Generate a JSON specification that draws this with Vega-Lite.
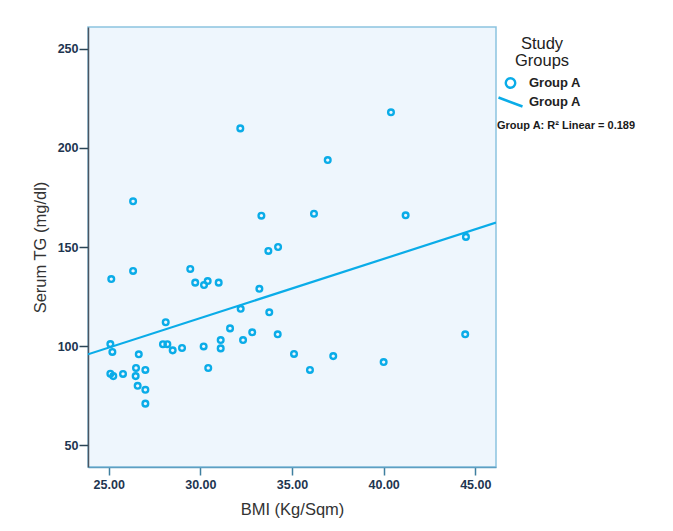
{
  "$schema": "https://vega.github.io/schema/vega-lite/v6.json",
  "width": 408,
  "height": 440,
  "autosize": {"type": "none"},
  "padding": {"left": 88, "top": 27, "right": 177, "bottom": 64},
  "background": "white",
  "config": {
    "font": "Liberation Sans",
    "view": {"fill": "#eef6fd", "stroke": "#8cc3df", "strokeWidth": 1.5},
    "axis": {"grid": false, "labelFont": "Liberation Sans", "titleFont": "Liberation Sans"}
  },
  "datasets": {
    "pts": [
      {"bmi": 25.14, "tg": 133.8, "group": "Group A"},
      {"bmi": 26.33, "tg": 137.9, "group": "Group A"},
      {"bmi": 29.45, "tg": 138.9, "group": "Group A"},
      {"bmi": 29.72, "tg": 132.0, "group": "Group A"},
      {"bmi": 30.20, "tg": 130.8, "group": "Group A"},
      {"bmi": 30.40, "tg": 132.8, "group": "Group A"},
      {"bmi": 31.00, "tg": 132.0, "group": "Group A"},
      {"bmi": 33.71, "tg": 148.0, "group": "Group A"},
      {"bmi": 34.24, "tg": 150.0, "group": "Group A"},
      {"bmi": 33.22, "tg": 128.9, "group": "Group A"},
      {"bmi": 32.20, "tg": 118.8, "group": "Group A"},
      {"bmi": 33.76, "tg": 117.0, "group": "Group A"},
      {"bmi": 28.11, "tg": 112.0, "group": "Group A"},
      {"bmi": 25.09, "tg": 101.0, "group": "Group A"},
      {"bmi": 25.20, "tg": 97.0, "group": "Group A"},
      {"bmi": 27.96, "tg": 100.9, "group": "Group A"},
      {"bmi": 28.20, "tg": 100.9, "group": "Group A"},
      {"bmi": 28.49, "tg": 97.8, "group": "Group A"},
      {"bmi": 29.00, "tg": 99.0, "group": "Group A"},
      {"bmi": 30.18, "tg": 99.8, "group": "Group A"},
      {"bmi": 31.11, "tg": 103.0, "group": "Group A"},
      {"bmi": 31.11, "tg": 98.8, "group": "Group A"},
      {"bmi": 31.62, "tg": 108.9, "group": "Group A"},
      {"bmi": 32.33, "tg": 103.0, "group": "Group A"},
      {"bmi": 32.83, "tg": 106.9, "group": "Group A"},
      {"bmi": 34.22, "tg": 105.9, "group": "Group A"},
      {"bmi": 35.11, "tg": 96.0, "group": "Group A"},
      {"bmi": 26.64, "tg": 95.8, "group": "Group A"},
      {"bmi": 30.43, "tg": 88.9, "group": "Group A"},
      {"bmi": 25.09, "tg": 86.0, "group": "Group A"},
      {"bmi": 25.25, "tg": 84.8, "group": "Group A"},
      {"bmi": 25.78, "tg": 85.9, "group": "Group A"},
      {"bmi": 26.49, "tg": 88.9, "group": "Group A"},
      {"bmi": 27.00, "tg": 87.9, "group": "Group A"},
      {"bmi": 26.47, "tg": 84.8, "group": "Group A"},
      {"bmi": 26.58, "tg": 79.9, "group": "Group A"},
      {"bmi": 27.00, "tg": 77.9, "group": "Group A"},
      {"bmi": 27.00, "tg": 70.9, "group": "Group A"},
      {"bmi": 40.40, "tg": 218.0, "group": "Group A"},
      {"bmi": 36.95, "tg": 193.9, "group": "Group A"},
      {"bmi": 36.20, "tg": 166.8, "group": "Group A"},
      {"bmi": 41.20, "tg": 166.0, "group": "Group A"},
      {"bmi": 44.49, "tg": 155.1, "group": "Group A"},
      {"bmi": 44.45, "tg": 105.9, "group": "Group A"},
      {"bmi": 35.98, "tg": 87.9, "group": "Group A"},
      {"bmi": 37.25, "tg": 94.9, "group": "Group A"},
      {"bmi": 40.00, "tg": 91.9, "group": "Group A"},
      {"bmi": 32.18, "tg": 209.9, "group": "Group A"},
      {"bmi": 26.33, "tg": 173.1, "group": "Group A"},
      {"bmi": 33.33, "tg": 165.8, "group": "Group A"}
    ],
    "fit": [
      {"bmi": 23.87, "tg": 95.8, "series": "Group A fit"},
      {"bmi": 46.13, "tg": 162.3, "series": "Group A fit"}
    ]
  },
  "layer": [
    {
      "data": {"name": "fit"},
      "mark": {"type": "line", "strokeWidth": 2.2, "clip": true},
      "encoding": {
        "x": {"field": "bmi", "type": "quantitative", "scale": {"domain": [23.87, 46.13], "nice": false, "zero": false}},
        "y": {"field": "tg", "type": "quantitative", "scale": {"domain": [38.9, 261.1], "nice": false, "zero": false}},
        "color": {
          "field": "series", "type": "nominal",
          "scale": {"domain": ["Group A fit"], "range": ["#0aace8"]},
          "legend": {
            "orient": "none", "legendX": 409, "legendY": 61.5,
            "padding": 0,
            "title": "Group A: R² Linear = 0.189",
            "titleOrient": "bottom",
            "titleFontSize": 11, "titleFontWeight": "bold", "titleColor": "#1a1a1a",
            "titlePadding": 8,
            "labelExpr": "'Group A'",
            "symbolType": "M-1,-0.375L1,0.375",
            "symbolSize": 576,
            "symbolStrokeWidth": 2.5,
            "symbolStrokeColor": "#0aace8",
            "labelFontSize": 13, "labelFontWeight": "bold", "labelColor": "#222222",
            "labelOffset": 5
          }
        }
      }
    },
    {
      "data": {"name": "pts"},
      "mark": {"type": "point", "filled": false, "strokeWidth": 2.4, "size": 32, "color": "#0aace8", "opacity": 1},
      "encoding": {
        "x": {
          "field": "bmi", "type": "quantitative",
          "scale": {"domain": [23.87, 46.13], "nice": false, "zero": false},
          "axis": {
            "title": "BMI (Kg/Sqm)",
            "values": [25, 30, 35, 40, 45], "format": ".2f",
            "tickSize": 8, "tickColor": "#3f7f9f", "tickWidth": 1.5,
            "domainColor": "#5e9fc2", "domainWidth": 1.5,
            "labelFontSize": 12.5, "labelFontWeight": "bold", "labelColor": "#1e3550", "labelPadding": 3,
            "titleFontSize": 16.5, "titleFontWeight": "normal", "titleColor": "#333333", "titlePadding": 11
          }
        },
        "y": {
          "field": "tg", "type": "quantitative",
          "scale": {"domain": [38.9, 261.1], "nice": false, "zero": false},
          "axis": {
            "title": "Serum TG (mg/dl)",
            "values": [50, 100, 150, 200, 250],
            "tickSize": 9, "tickColor": "#2a4455", "tickWidth": 1.5,
            "domainColor": "#4a5561", "domainWidth": 1.5,
            "labelFontSize": 12.5, "labelFontWeight": "bold", "labelColor": "#1e3550", "labelPadding": 1,
            "titleFontSize": 16.5, "titleFontWeight": "normal", "titleColor": "#333333", "titlePadding": 9
          }
        },
        "shape": {
          "field": "group", "type": "nominal",
          "scale": {"domain": ["Group A"], "range": ["circle"]},
          "legend": {
            "orient": "none", "legendX": 416, "legendY": 9,
            "padding": 0,
            "title": ["Study", "Groups"],
            "titleFontSize": 16.5, "titleFontWeight": "normal", "titleColor": "#222222",
            "titleLineHeight": 17, "titleAnchor": "middle", "titleAlign": "center",
            "titlePadding": 7,
            "symbolSize": 90, "symbolStrokeWidth": 2.4,
            "symbolStrokeColor": "#0aace8", "symbolFillColor": "transparent",
            "labelFontSize": 13, "labelFontWeight": "bold", "labelColor": "#222222",
            "labelOffset": 12
          }
        }
      }
    }
  ]
}
